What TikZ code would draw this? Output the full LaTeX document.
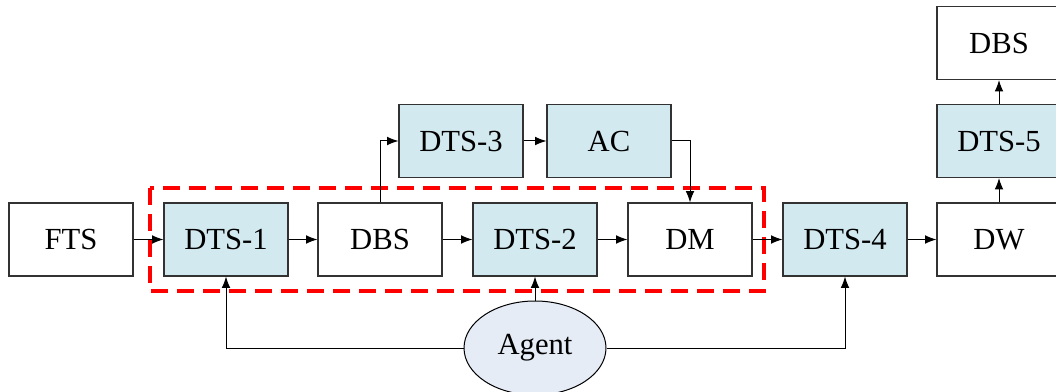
\documentclass[tikz,border=0pt]{standalone}
\usepackage{fontspec}
\setmainfont{Liberation Serif}
\usetikzlibrary{arrows.meta,shapes.geometric}
\definecolor{boxblue}{RGB}{210,233,239}
\definecolor{agentfill}{RGB}{229,236,246}
\definecolor{edgegray}{RGB}{50,50,50}
\begin{document}
\begin{tikzpicture}[x=0.75pt,y=-0.75pt,
  every node/.style={font=\fontsize{23}{27}\selectfont},
  plainbox/.style={draw=edgegray,line width=0.8pt,fill=white,minimum width=93pt,minimum height=54.75pt,inner sep=0pt},
  bluebox/.style={plainbox,fill=boxblue},
  agentnode/.style={ellipse,draw=black,line width=0.75pt,fill=agentfill,minimum width=106.5pt,minimum height=70.5pt,inner sep=0pt},
  conn/.style={draw=black,line width=0.75pt,-{Latex[length=8.5pt,width=6.5pt]}},
  zone/.style={draw=red,line width=3pt,dash pattern=on 13pt off 6.5pt}]
\useasboundingbox (0,0) rectangle (1056,392);
\clip (0,0) rectangle (1056,392);
\node[plainbox] (fts) at (71,239.5) {FTS};
\node[bluebox] (dts1) at (226,239.5) {DTS-1};
\node[plainbox] (dbs) at (380,239.5) {DBS};
\node[bluebox] (dts2) at (535,239.5) {DTS-2};
\node[plainbox] (dm) at (690,239.5) {DM};
\node[bluebox] (dts4) at (845,239.5) {DTS-4};
\node[plainbox] (dw) at (999,239.5) {DW};
\node[bluebox] (dts3) at (461,141) {DTS-3};
\node[bluebox] (ac) at (609,141) {AC};
\node[bluebox] (dts5) at (999,141) {DTS-5};
\node[plainbox] (dbs2) at (999,43) {DBS};
\node[agentnode] (agent) at (535,348) {Agent};
\coordinate (z1) at (150,188);
\coordinate (z2) at (764,291);
\draw[zone] (z1) rectangle (z2);
\draw[conn] (fts) -- (dts1);
\draw[conn] (dts1) -- (dbs);
\draw[conn] (dbs) -- (dts2);
\draw[conn] (dts2) -- (dm);
\draw[conn] (dm) -- (dts4);
\draw[conn] (dts4) -- (dw);
\draw[conn] (dw) -- (dts5);
\draw[conn] (dts5) -- (dbs2);
\draw[conn] (dts3) -- (ac);
\draw[conn] (dbs.north) |- (dts3.west);
\draw[conn] (ac.east) -| (dm.north);
\draw[conn] (agent.north) -- (dts2.south);
\draw[conn] (agent.west) -| (dts1.south);
\draw[conn] (agent.east) -| (dts4.south);
\end{tikzpicture}
\end{document}
